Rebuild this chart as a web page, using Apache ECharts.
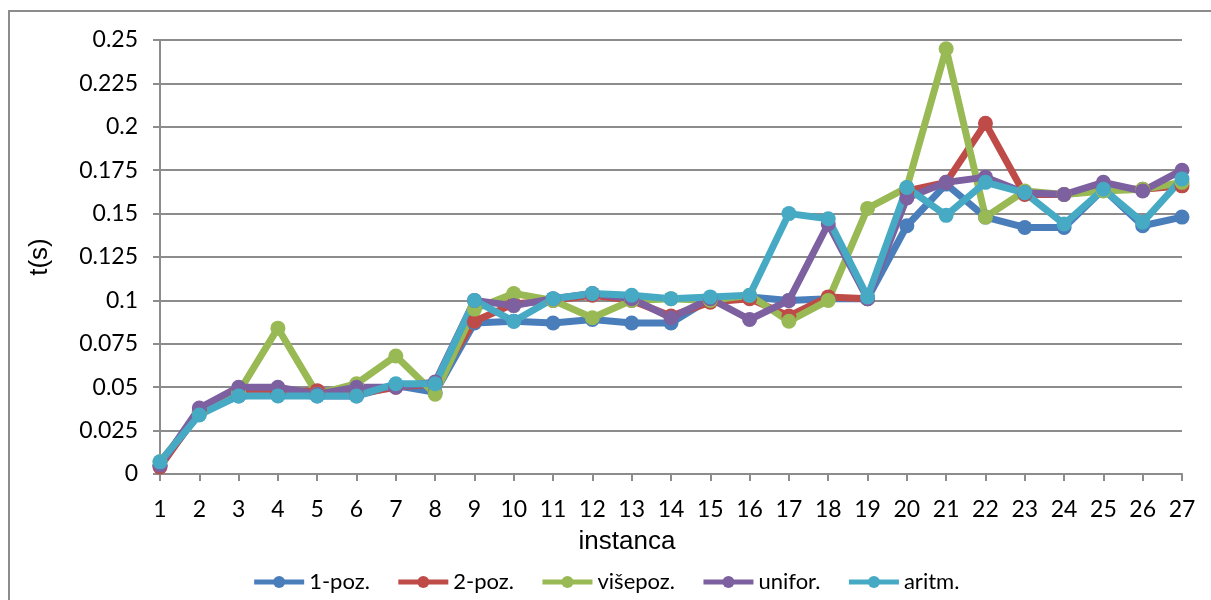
<!DOCTYPE html>
<html>
<head>
<meta charset="utf-8">
<script src="https://cdn.jsdelivr.net/npm/echarts@6/dist/echarts.min.js"></script>
<style>
  html, body { margin: 0; padding: 0; background: #fff; overflow: hidden; }
  #frame { position: absolute; left: 8px; top: 10px; width: 1220px; height: 620px; border: 2px solid #8c8c8c; box-sizing: border-box; }
  #chart { position: absolute; left: 0; top: 0; width: 1211px; height: 600px; }
</style>
</head>
<body>
<div id="frame"></div>
<div id="chart"></div>
<script>
// instance numbers on x axis
const instances = ['1','2','3','4','5','6','7','8','9','10','11','12','13','14','15','16','17','18','19','20','21','22','23','24','25','26','27']

// t(s) per method
const poz1 = [0.005,0.035,0.045,0.046,0.045,0.045,0.051,0.047,0.087,0.088,0.087,0.089,0.087,0.087,0.101,0.102,0.100,0.101,0.101,0.143,0.167,0.148,0.142,0.142,0.164,0.143,0.148]
const poz2 = [0.004,0.036,0.048,0.047,0.048,0.046,0.050,0.052,0.088,0.098,0.100,0.103,0.100,0.091,0.099,0.101,0.091,0.102,0.101,0.163,0.168,0.202,0.161,0.161,0.164,0.164,0.166]
const visepoz = [0.007,0.035,0.047,0.084,0.046,0.052,0.068,0.046,0.095,0.104,0.100,0.090,0.100,0.101,0.100,0.103,0.088,0.100,0.153,0.165,0.245,0.148,0.163,0.161,0.163,0.164,0.168]
const unifor = [0.005,0.038,0.050,0.050,0.046,0.050,0.050,0.053,0.100,0.097,0.101,0.104,0.101,0.090,0.101,0.089,0.100,0.144,0.101,0.159,0.168,0.171,0.162,0.161,0.168,0.163,0.175]
const aritm = [0.007,0.034,0.045,0.045,0.045,0.045,0.052,0.052,0.100,0.088,0.101,0.104,0.103,0.101,0.102,0.103,0.150,0.147,0.102,0.165,0.149,0.168,0.162,0.144,0.164,0.145,0.170]

const seriesNames = ['1-poz.', '2-poz.', 'višepoz.', 'unifor.', 'aritm.']
const seriesColors = ['#4a7ebb', '#be4b48', '#98b954', '#7d60a0', '#46aac5']

const chart = echarts.init(document.getElementById('chart'))

function makeLine(name, data, color) {
  return {
    name: name,
    type: 'line',
    data: data,
    symbol: 'circle',
    symbolSize: 15,
    lineStyle: { width: 7, color: color },
    itemStyle: { color: color, borderWidth: 0 },
    emphasis: { disabled: true },
    animation: false
  }
}

chart.setOption({
  textStyle: { fontFamily: 'Lato' },
  grid: { left: 160, right: 29, top: 40, bottom: 126 },
  legend: {
    data: seriesNames,
    bottom: 2,
    left: 'center',
    itemWidth: 50,
    itemHeight: 15,
    itemGap: 26,
    lineStyle: { width: 5 },
    textStyle: { fontSize: 22, color: '#000', fontFamily: 'Lato' }
  },
  xAxis: {
    type: 'category',
    data: instances,
    boundaryGap: false,
    name: 'instanca',
    nameLocation: 'middle',
    nameGap: 55,
    nameTextStyle: { fontSize: 26, color: '#000', fontFamily: 'Liberation Sans', padding: [0, 88, 0, 0] },
    axisLine: { lineStyle: { color: '#8c8c8c', width: 2 } },
    axisTick: { alignWithLabel: true, length: 7, lineStyle: { color: '#8c8c8c', width: 2 } },
    axisLabel: { fontSize: 23, color: '#000', margin: 24, interval: 0 },
    splitLine: { show: false }
  },
  yAxis: {
    type: 'value',
    min: 0,
    max: 0.25,
    interval: 0.025,
    name: 't(s)',
    nameLocation: 'middle',
    nameGap: 107,
    nameRotate: 90,
    nameTextStyle: { fontSize: 26, color: '#000', fontFamily: 'Liberation Sans' },
    axisLine: { show: true, lineStyle: { color: '#8c8c8c', width: 2 } },
    axisTick: { show: true, length: 7, lineStyle: { color: '#8c8c8c', width: 2 } },
    axisLabel: {
      fontSize: 23, color: '#000', margin: 22,
      formatter: v => String(parseFloat(v.toFixed(3)))
    },
    splitLine: { lineStyle: { color: '#8c8c8c', width: 2 } }
  },
  series: [
    makeLine(seriesNames[0], poz1, seriesColors[0]),
    makeLine(seriesNames[1], poz2, seriesColors[1]),
    makeLine(seriesNames[2], visepoz, seriesColors[2]),
    makeLine(seriesNames[3], unifor, seriesColors[3]),
    makeLine(seriesNames[4], aritm, seriesColors[4])
  ]
})
</script>
</body>
</html>
